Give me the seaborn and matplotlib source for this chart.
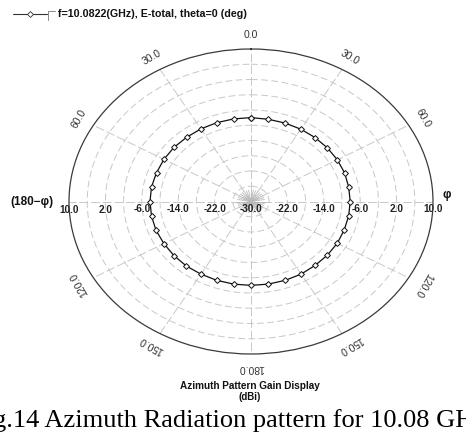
import numpy as np
import pandas as pd
import matplotlib
matplotlib.use("Agg")
import matplotlib.pyplot as plt
import matplotlib.transforms as mtransforms
from matplotlib.lines import Line2D
import seaborn as sns

# Azimuth gain (dBi) sampled every 10 degrees
phi_deg = [0, 10, 20, 30, 40, 50, 60, 70, 80, 90, 100, 110,
           120, 130, 140, 150, 160, 170, 180, 190, 200, 210, 220, 230,
           240, 250, 260, 270, 280, 290, 300, 310, 320, 330, 340, 350]
gain_dbi = [-8.0, -8.1, -8.1, -8.1, -8.1, -8.1, -8.1, -8.1, -8.2, -8.2, -8.2, -8.2,
            -8.1, -8.1, -8.1, -8.0, -8.0, -8.0, -8.0, -8.0, -8.0, -8.0, -7.9, -7.9,
            -7.9, -7.8, -7.8, -7.8, -7.8, -7.9, -7.9, -7.9, -8.0, -8.0, -8.0, -8.0]

r_ticks = [10.0, 2.0, -6.0, -14.0, -22.0, -30.0]
angle_ticks = [0, 30, 60, 120, 150, 180, 210, 240, 300, 330]
angle_labels = ["0.0", "30.0", "60.0", "120.0", "150.0", "180.0",
                "150.0", "120.0", "60.0", "30.0"]
legend_text = "f=10.0822(GHz), E-total, theta=0 (deg)"
title_text = "Azimuth Pattern Gain Display"
unit_text = "(dBi)"
caption_text = "Fig.14 Azimuth Radiation pattern for 10.08 GHz"

sns.set_theme(style="white")
plt.rcParams["font.family"] = ["Liberation Sans", "DejaVu Sans"]

W, H = 466, 443
fig = plt.figure(figsize=(W / 100, H / 100), dpi=100)
fig.patch.set_facecolor("white")

ax_l, ax_r, ax_t, ax_b = 69, 433, 49, 354
ax = fig.add_axes([ax_l / W, 1 - ax_b / H, (ax_r - ax_l) / W, (ax_b - ax_t) / H],
                  projection="polar")
ax.set_aspect("auto")
ax.set_theta_zero_location("N")
ax.set_theta_direction(-1)
r_min, r_max = -30, 10
ax.set_ylim(r_min, r_max)
ax.set_xticks([])
ax.set_yticks([])
ax.grid(False)
ax.set_facecolor("white")
ax.spines["polar"].set_color("#3a3a3a")
ax.spines["polar"].set_linewidth(0.9)

grid_col = "#c8c8c8"
circ = np.linspace(0, 2 * np.pi, 721)
for rv in np.arange(-26, 10, 4):
    ax.plot(circ, np.full_like(circ, rv), color=grid_col, lw=0.7,
            ls=(0, (7, 3.5)), zorder=1)
for deg in range(0, 360, 30):
    t = np.deg2rad(deg)
    ax.plot([t, t], [r_min, r_max], color=grid_col, lw=0.7,
            ls=(0, (9, 3)), zorder=1)
for deg in range(0, 360, 10):
    t = np.deg2rad(deg)
    ax.plot([t, t], [r_min, -27], color="#b8b8b8", lw=0.6, zorder=1)

# radial scale labels along the horizontal diameter
below = mtransforms.offset_copy(ax.transData, fig=fig, x=0, y=-8, units="dots")
for rv in r_ticks:
    for side in (np.pi / 2, 3 * np.pi / 2):
        if rv == r_min and side != np.pi / 2:
            continue
        ax.text(side, rv, f"{rv:.1f}", transform=below, ha="center", va="center",
                fontsize=7.2, fontweight="bold", color="#222222", zorder=2)

# angular labels, written along the rim
for deg, lab in zip(angle_ticks, angle_labels):
    ax.text(np.deg2rad(deg), r_max + 3.6, lab, rotation=-deg, rotation_mode="anchor",
            ha="center", va="center", fontsize=7.5, color="#333333", zorder=2)

# gain trace
df = pd.DataFrame({"phi": np.deg2rad(phi_deg + [phi_deg[0]]),
                   "gain": gain_dbi + [gain_dbi[0]]})
sns.lineplot(data=df, x="phi", y="gain", ax=ax, sort=False, estimator=None,
             color="#111111", lw=0.9, marker="D", markersize=3.0,
             markerfacecolor="white", markeredgecolor="#111111",
             markeredgewidth=0.7, zorder=4)
ax.set_xlabel("")
ax.set_ylabel("")
ax.set_ylim(r_min, r_max)

# side annotations
fig.text(32 / W, 1 - 202 / H, "(180\u2212\u03c6)", ha="center", va="center",
         fontsize=8.5, fontweight="bold", color="#111111")
fig.text(447 / W, 1 - 195 / H, "\u03c6", ha="center", va="center",
         fontsize=8.5, fontweight="bold", color="#111111")

# legend entry
fig.add_artist(Line2D([13 / W, 47 / W], [1 - 14 / H] * 2, color="#333333", lw=0.8,
                      transform=fig.transFigure))
fig.add_artist(Line2D([30 / W], [1 - 14 / H], marker="D", markersize=3,
                      markerfacecolor="white", markeredgecolor="#333333",
                      markeredgewidth=0.6, transform=fig.transFigure))
fig.add_artist(Line2D([48 / W, 48 / W, 55 / W], [1 - 20 / H, 1 - 11 / H, 1 - 11 / H],
                      color="#888888", lw=0.7, transform=fig.transFigure))
fig.text(58 / W, 1 - 14 / H, legend_text, ha="left", va="center",
         fontsize=7.7, fontweight="bold", color="#111111")

# axis title and caption
fig.text(250 / W, 1 - 386 / H, title_text, ha="center", va="center",
         fontsize=7.2, fontweight="bold", color="#111111")
fig.text(250 / W, 1 - 397 / H, unit_text, ha="center", va="center",
         fontsize=7.0, fontweight="bold", color="#111111")
fig.text(229 / W, 1 - 421 / H, caption_text, ha="center", va="center",
         fontsize=19, family=["Liberation Serif", "DejaVu Serif"], color="#000000")

fig.savefig("out.png", dpi=100, facecolor="white")
